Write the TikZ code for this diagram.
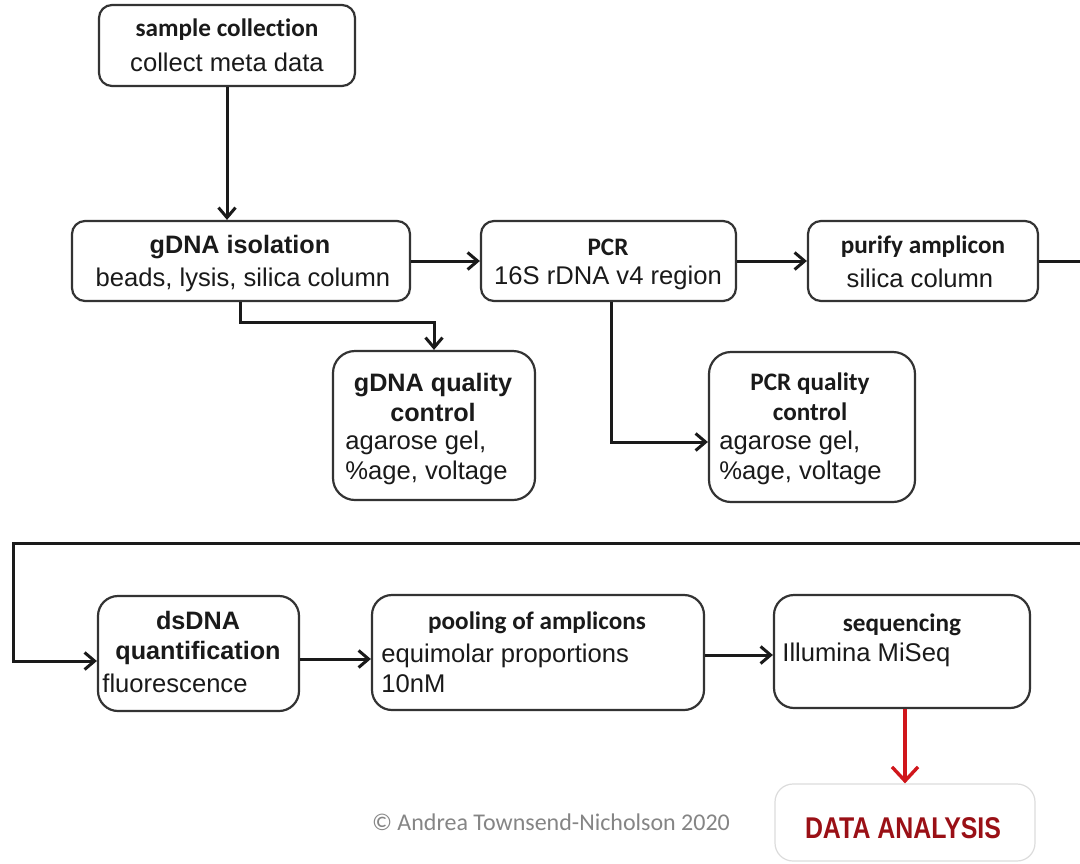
\documentclass[tikz,border=0pt]{standalone}
\usepackage{fontspec}
\usepackage{graphicx}
\setmainfont{Liberation Sans}[Ligatures=NoCommon]
\newfontfamily\calfont{Carlito}[Ligatures={NoCommon,NoRare,NoDiscretionary}]
\usetikzlibrary{arrows.meta}
\definecolor{ink}{HTML}{1A1A1A}
\definecolor{edge}{HTML}{333333}
\definecolor{redarr}{HTML}{D0161B}
\definecolor{darkred}{HTML}{9A1016}
\definecolor{copygray}{HTML}{858585}
\definecolor{faint}{HTML}{DCDCDC}
\tikzset{
  box/.style={draw=edge, line width=1.1pt, rounded corners=6.5pt, inner sep=0pt, fill=white},
  qcbox/.style={box, rounded corners=11pt},
  lowbox/.style={box, rounded corners=10pt},
  conn/.style={draw=ink, line width=1.5pt, -{Straight Barb[length=5pt,width=8.5pt]}},
  redconn/.style={draw=redarr, line width=1.7pt, -{Straight Barb[length=7pt,width=13pt]}},
  ttlA/.style={font=\fontsize{12.6}{15}\selectfont\bfseries, align=center, inner sep=0pt, text=ink},
  ttlC/.style={font=\calfont\fontsize{12.6}{15}\selectfont\bfseries, align=center, inner sep=0pt, text=ink},
  body/.style={font=\fontsize{12.8}{15}\selectfont, align=center, inner sep=0pt, text=ink},
  bodyL/.style={body, align=left, anchor=west},
}
\begin{document}
\begin{tikzpicture}[x=0.5pt,y=-0.5pt]
\useasboundingbox (0,0) rectangle (1080,863);
\fill[white] (0,0) rectangle (1080,863);
\clip (0,0) rectangle (1080,863);

% boxes
\node[box, minimum width=128pt, minimum height=40.5pt] (samp) at (227,45.5) {};
\node[box, minimum width=169pt, minimum height=40pt] (iso) at (241,261) {};
\node[box, minimum width=127.5pt, minimum height=40pt] (pcr) at (608.5,261) {};
\node[box, minimum width=115pt, minimum height=40pt] (pur) at (923,261) {};
\node[qcbox, minimum width=101pt, minimum height=74.5pt] (gqc) at (434,425.5) {};
\node[qcbox, minimum width=103pt, minimum height=75pt] (pqc) at (812,427) {};
\node[lowbox, minimum width=100.5pt, minimum height=57.5pt] (ds) at (198.5,653.5) {};
\node[lowbox, minimum width=166pt, minimum height=57.5pt] (pool) at (538,652.5) {};
\node[lowbox, minimum width=128pt, minimum height=56.5pt] (seq) at (902,651.5) {};
\node[draw=faint, line width=0.6pt, fill=white, rounded corners=9pt, minimum width=130pt, minimum height=38.5pt, inner sep=0pt] (data) at (905,822.5) {};

% texts
\node[ttlC] (sampT) at (227,30) {sample collection};
\node[body] (sampB) at (227,62) {collect meta data};
\node[ttlA] (isoT) at (240,247) {gDNA isolation};
\node[body] (isoB) at (243,280) {beads, lysis, silica column};
\node[ttlC] (pcrT) at (608,247) {PCR};
\node[body] (pcrB) at (608,278) {16S rDNA v4 region};
\node[ttlC] (purT) at (923,247) {purify amplicon};
\node[body] (purB) at (920,278) {silica column};
\node[ttlA] (gqcT) at (433,397) {gDNA quality\\control};
\node[bodyL] (gqcB) at (345,458) {agarose gel,\\\%age, voltage};
\node[ttlC] (pqcT) at (810,397) {PCR quality\\control};
\node[bodyL] (pqcB) at (719,458) {agarose gel,\\\%age, voltage};
\node[ttlA] (dsT) at (198,638) {dsDNA\\quantification};
\node[bodyL] (dsB) at (102,683) {fluorescence};
\node[ttlC] (poolT) at (537,623) {pooling of amplicons};
\node[bodyL] (poolB) at (381,668) {equimolar proportions\\10nM};
\node[ttlC] (seqT) at (902,625) {sequencing};
\node[bodyL] (seqB) at (782,655) {Illumina MiSeq};
\node[inner sep=0pt, text=darkred, font=\fontsize{15}{18}\selectfont\bfseries] (dataT) at (903,828) {\scalebox{0.83}[1]{DATA ANALYSIS}};
\node[inner sep=0pt, text=copygray, font=\calfont\fontsize{12}{14}\selectfont] (copy) at (551,822) {\textcopyright{} Andrea Townsend-Nicholson 2020};

% connectors
\coordinate (isoq) at (240,322);
\coordinate (pcrq) at (611,442);
\coordinate (r1) at (1095,261);
\coordinate (r2) at (1095,543);
\coordinate (l1) at (13,543);
\coordinate (l2) at (13,661);
\coordinate (m1) at (0,659);
\coordinate (m2) at (0,655);

\draw[conn] (samp.south) -- (samp.south |- iso.north);
\draw[conn] (iso.east) -- (pcr.west);
\draw[conn] (pcr.east) -- (pur.west);
\draw[conn] (iso.south -| isoq) -- (isoq) -| (gqc.north);
\draw[conn] (pcr.south -| pcrq) -- (pcrq) -- (pqc.west |- pcrq);
\draw[conn] (pur.east) -- (r1) -- (r2) -- (l1) -- (l2) -- (ds.west |- l2);
\draw[conn] (ds.east |- m1) -- (pool.west |- m1);
\draw[conn] (pool.east |- m2) -- (seq.west |- m2);
\draw[redconn] (seq.south -| data.north) -- (data.north);
\end{tikzpicture}
\end{document}
